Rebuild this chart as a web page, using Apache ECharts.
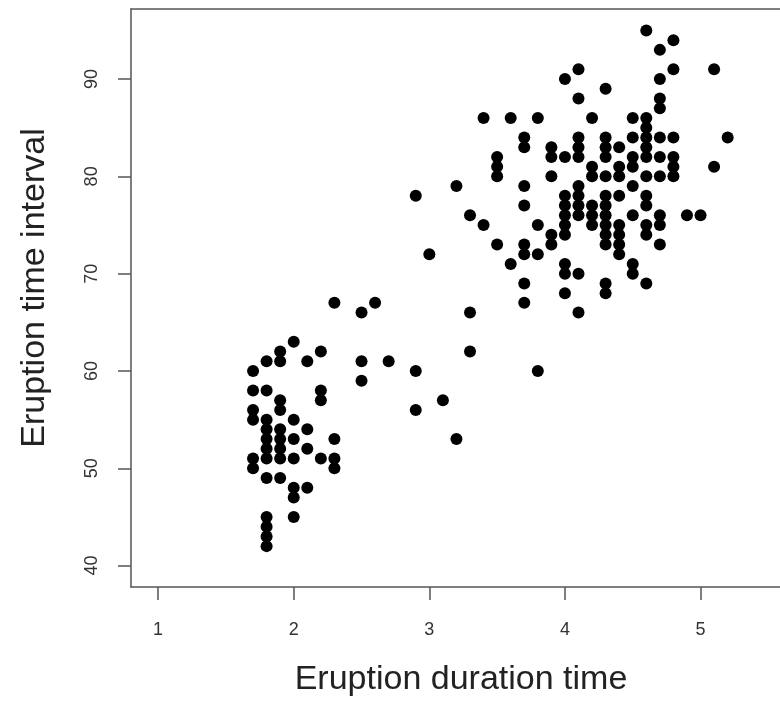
<!DOCTYPE html>
<html>
<head>
<meta charset="utf-8">
<style>
html,body{margin:0;padding:0;background:#fff;}
#chart{width:780px;height:704px;}
</style>
<script src="https://cdn.jsdelivr.net/npm/echarts@6/dist/echarts.min.js"></script>
</head>
<body>
<div id="chart"></div>
<script>
// Eruption duration (x) columns and the waiting intervals (y) observed at each duration
const durationColumns = [1.7, 1.8, 1.9, 2.0, 2.1, 2.2, 2.3, 2.5, 2.6, 2.7, 2.9, 3.0, 3.1, 3.2, 3.3, 3.4, 3.5, 3.6, 3.7, 3.8, 3.9, 4.0, 4.1, 4.2, 4.3, 4.4, 4.5, 4.6, 4.7, 4.8, 4.9, 5.0, 5.1, 5.2];
const intervalsByColumn = [
  [60, 58, 56, 55, 51, 50],
  [61, 58, 55, 54, 53, 52, 51, 49, 45, 44, 43, 42],
  [62, 61, 57, 56, 54, 53, 52, 51, 49],
  [63, 55, 53, 51, 48, 47, 45],
  [61, 54, 52, 48],
  [62, 58, 57, 51],
  [67, 53, 51, 50],
  [66, 61, 59],
  [67],
  [61],
  [78, 60, 56],
  [72],
  [57],
  [79, 53],
  [76, 66, 62],
  [86, 75],
  [82, 81, 80, 73],
  [86, 71],
  [84, 83, 79, 77, 73, 72, 69, 67],
  [86, 75, 72, 60],
  [83, 82, 80, 74, 73],
  [90, 82, 78, 77, 76, 75, 74, 71, 70, 68],
  [91, 88, 84, 83, 82, 79, 78, 77, 76, 70, 66],
  [86, 81, 80, 77, 76, 75],
  [89, 84, 83, 82, 80, 78, 77, 76, 75, 74, 73, 69, 68],
  [83, 81, 80, 78, 75, 74, 73, 72],
  [86, 84, 82, 81, 79, 76, 71, 70],
  [95, 86, 85, 84, 83, 82, 80, 78, 77, 75, 74, 69],
  [93, 90, 88, 87, 84, 82, 80, 76, 75, 73],
  [94, 91, 84, 82, 81, 80],
  [76],
  [76],
  [91, 81],
  [84]
];
const xTickValues = [1, 2, 3, 4, 5];
const yTickValues = [40, 50, 60, 70, 80, 90];
const xTitle = 'Eruption duration time';
const yTitle = 'Eruption time interval';

const points = [];
durationColumns.forEach(function (x, i) {
  intervalsByColumn[i].forEach(function (y) { points.push([x, y]); });
});

const FONT = 'Liberation Sans, Arial, Helvetica, sans-serif';
const LINE = { color: '#555', width: 1.5 };
const chart = echarts.init(document.getElementById('chart'), null, { renderer: 'canvas' });
chart.setOption({
  animation: false,
  backgroundColor: '#ffffff',
  grid: { left: 131, top: 9, right: 0, height: 578, show: false },
  xAxis: [{
    type: 'value', min: 0.8, max: 5.586,
    axisLine: { show: true, onZero: false, lineStyle: LINE },
    axisTick: { show: true, inside: false, length: 13, customValues: xTickValues, lineStyle: LINE },
    axisLabel: { customValues: xTickValues, margin: 34, fontSize: 18, color: '#333', fontFamily: FONT },
    splitLine: { show: false }
  }, {
    type: 'value', position: 'top', min: 0.8, max: 5.586,
    axisLine: { show: true, onZero: false, lineStyle: LINE },
    axisTick: { show: false }, axisLabel: { show: false }, splitLine: { show: false }
  }],
  yAxis: {
    type: 'value', min: 37.8, max: 97.2,
    axisLine: { show: true, onZero: false, lineStyle: LINE },
    axisTick: { show: true, inside: false, length: 13, customValues: yTickValues, lineStyle: LINE },
    axisLabel: { customValues: yTickValues, rotate: 90, margin: 30, fontSize: 18, color: '#333', fontFamily: FONT },
    splitLine: { show: false }
  },
  graphic: [
    { type: 'text', x: 461, y: 680, style: { text: xTitle, fontSize: 34, fontFamily: FONT, fill: '#222', align: 'center', verticalAlign: 'middle' } },
    { type: 'text', x: 35, y: 288, rotation: Math.PI / 2, style: { text: yTitle, fontSize: 34, fontFamily: FONT, fill: '#222', align: 'center', verticalAlign: 'middle' } }
  ],
  series: [{
    type: 'scatter',
    xAxisIndex: 0,
    data: points,
    symbol: 'circle',
    symbolSize: 12,
    itemStyle: { color: '#000', opacity: 1 }
  }]
});
</script>
</body>
</html>
